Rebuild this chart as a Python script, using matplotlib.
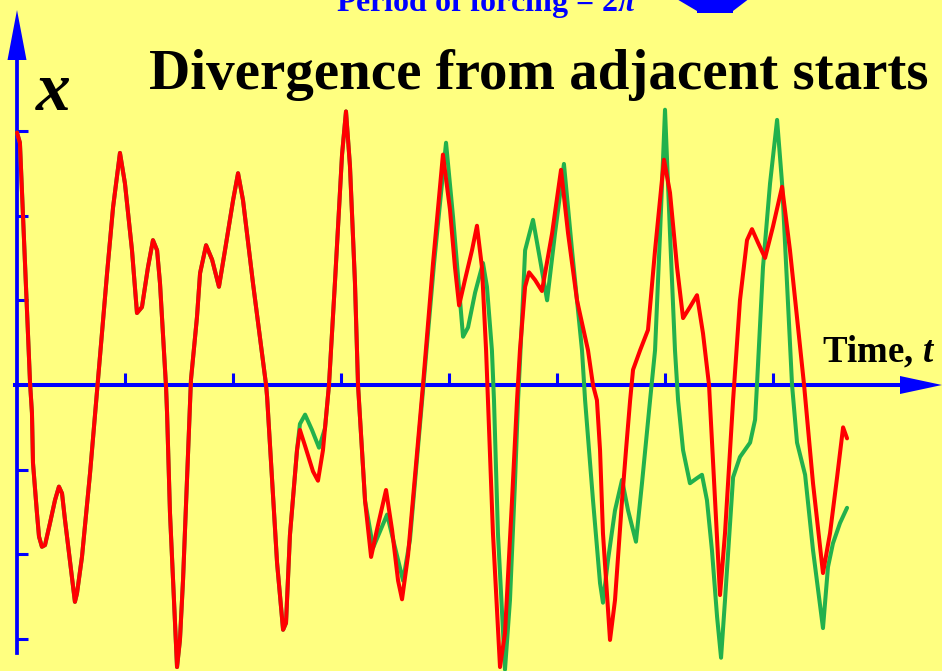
import numpy as np
import matplotlib
matplotlib.use("Agg")
import matplotlib.pyplot as plt
import matplotlib.transforms as mtransforms

# forced oscillator: two runs from almost the same starting point
# shared stretch (both runs coincide up to here)
t_common = [0.00, 0.17, 0.76, 0.87, 0.93, 1.16, 1.28, 1.45, 1.63, 1.92, 2.21, 2.44,
            2.62, 2.79, 3.08, 3.37, 3.49, 3.78, 4.25, 4.71, 5.24, 5.59, 5.99, 6.28,
            6.69, 6.98, 7.27, 7.62, 7.91, 8.15, 8.32, 8.67, 8.73, 8.90, 9.08, 9.31,
            9.48, 9.66, 9.89, 10.12, 10.47, 10.65, 11.00, 11.35, 11.75, 12.10, 12.57,
            12.86, 13.15, 13.73, 14.49, 14.55, 14.84, 15.13, 15.48, 15.65, 15.88, 16.29]
x_common = [2.98, 2.86, 0.02, -0.33, -0.92, -1.51, -1.79, -1.91, -1.89, -1.63, -1.36, -1.20,
            -1.28, -1.59, -2.07, -2.56, -2.46, -2.03, -1.04, 0.06, 1.32, 2.10, 2.74, 2.38,
            1.59, 0.85, 0.92, 1.39, 1.71, 1.59, 1.20, -0.02, -0.33, -1.51, -2.30, -3.33,
            -3.01, -2.30, -1.12, 0.06, 0.80, 1.32, 1.65, 1.48, 1.16, 1.59, 2.18,
            2.50, 2.18, 1.20, 0.00, -0.14, -1.12, -2.10, -2.89, -2.81, -1.77, -0.77]

# red run after the split
t_red = [16.46, 16.76, 17.22, 17.51, 17.80, 18.15, 18.50, 18.91, 19.14, 19.37, 19.66, 19.84,
         20.25, 20.60, 20.94, 21.47, 21.82, 22.17, 22.40, 22.75, 23.62, 24.20, 24.78, 25.19,
         25.48, 25.72, 26.06, 26.47, 26.76, 27.05, 27.29, 27.40, 27.69, 28.10, 28.39, 28.80,
         29.09, 29.26, 29.56, 29.79, 30.14, 30.54, 31.13, 31.65, 32.06, 32.58, 33.22, 33.51,
         33.74, 33.92, 34.09, 34.50, 34.79, 35.20, 35.43, 35.67, 35.84, 36.25, 36.71, 37.12,
         37.64, 37.99, 38.40, 38.75, 39.15, 39.56, 39.91, 40.26, 40.61, 40.90, 41.19, 41.66,
         42.06, 42.47, 42.76, 43.11, 43.52, 43.98, 44.51, 44.97, 45.38, 45.79, 46.31, 46.89,
         47.30, 47.71, 48.06, 48.29]
x_red = [-0.53, -0.72, -1.02, -1.13, -0.77, 0.00, 1.22, 2.72, 3.23, 2.59, 1.22, 0.00,
         -1.37, -2.03, -1.71, -1.24, -1.71, -2.31, -2.53, -2.01, 0.00, 1.43, 2.72, 2.07,
         1.39, 0.94, 1.24, 1.59, 1.88, 1.39, 0.41, -0.18, -1.75, -3.33, -2.93, -1.36,
         -0.18, 0.41, 1.16, 1.33, 1.24, 1.11, 1.79, 2.54, 1.79, 1.00, 0.41, 0.00,
         -0.18, -0.77, -1.75, -3.01, -2.54, -1.36, -0.77, -0.18, 0.18, 0.41, 0.65, 1.59,
         2.66, 2.27, 1.39, 0.79, 0.92, 1.06, 0.61, 0.00, -1.36, -2.48, -1.75, -0.18,
         1.00, 1.71, 1.84, 1.68, 1.50, 1.87, 2.34, 1.59, 0.80, 0.00, -1.16, -2.22,
         -1.75, -1.09, -0.50, -0.63]

# green run after the split
t_green = [16.46, 16.76, 17.16, 17.57, 17.92, 18.15, 18.50, 18.91, 19.14, 19.37, 19.66, 19.84,
           20.25, 20.72, 21.53, 22.46, 22.86, 23.62, 24.26, 24.96, 25.37, 25.77, 25.95, 26.24,
           26.65, 27.11, 27.34, 27.63, 27.75, 27.98, 28.39, 28.68, 28.97, 29.15, 29.38, 29.56,
           30.02, 30.43, 30.84, 31.30, 31.82, 32.29, 32.87, 33.05, 33.51, 33.92, 34.09, 34.38,
           34.79, 35.20, 35.55, 36.01, 36.36, 36.83, 37.12, 37.41, 37.70, 37.99, 38.28, 38.46,
           38.75, 39.15, 39.56, 39.85, 40.14, 40.43, 40.73, 40.96, 41.19, 41.66, 42.06, 42.65,
           42.94, 43.05, 43.40, 43.81, 44.22, 44.51, 44.80, 45.09, 45.38, 45.85, 46.31, 46.89,
           47.18, 47.47, 47.88, 48.29]
x_green = [-0.46, -0.35, -0.53, -0.74, -0.51, 0.00, 1.22, 2.72, 3.23, 2.59, 1.22, 0.00,
           -1.37, -1.92, -1.53, -2.31, -1.83, -0.06, 1.43, 2.86, 1.98, 1.00, 0.57, 0.68,
           1.09, 1.44, 1.16, 0.41, -0.18, -1.75, -3.36, -2.54, -1.16, -0.18, 0.77, 1.59,
           1.95, 1.48, 1.00, 1.79, 2.61, 1.59, 0.41, -0.18, -1.36, -2.34, -2.57, -2.07,
           -1.48, -1.12, -1.48, -1.85, -1.16, -0.18, 0.41, 1.79, 3.25, 1.79, 0.41, -0.18,
           -0.77, -1.16, -1.10, -1.06, -1.36, -1.95, -2.74, -3.22, -2.54, -1.09, -0.85, -0.68,
           -0.41, 0.00, 1.39, 2.38, 3.13, 2.38, 1.20, 0.00, -0.68, -1.06, -1.95, -2.87,
           -2.15, -1.87, -1.63, -1.45]

x_ticks = [2 * np.pi * k for k in range(1, 8)]
y_ticks = [-3, -2, -1, 1, 2, 3]

BG = "#FFFF80"
BLUE = "#0000FF"
W, H = 942, 671

plt.rcParams["mathtext.fontset"] = "custom"
plt.rcParams["mathtext.rm"] = "Liberation Serif:bold"
plt.rcParams["mathtext.it"] = "Liberation Serif:bold:italic"

fig = plt.figure(figsize=(W / 100, H / 100), dpi=100, facecolor=BG)
ax = fig.add_axes([0, 0, 1, 1], facecolor=BG)

# pixel scale: one forcing period = 108 px, one unit of x = 84.7 px
tpp = 2 * np.pi / 108
xpp = 1 / 84.7
ax.set_xlim(-17 * tpp, (W - 17) * tpp)
ax.set_ylim(-(H - 385) * xpp, 385 * xpp)

ax.plot(t_common + t_green, x_common + x_green, color="#22B14C", lw=2.9,
        solid_joinstyle="round", solid_capstyle="round", zorder=3)
ax.plot(t_common + t_red, x_common + x_red, color="#FF0000", lw=2.9,
        solid_joinstyle="round", solid_capstyle="round", zorder=4)

# axes through the origin
for s in ["top", "right"]:
    ax.spines[s].set_visible(False)
ax.spines["left"].set_position(("data", 0))
ax.spines["bottom"].set_position(("data", 0))
ax.spines["left"].set_color(BLUE)
ax.spines["bottom"].set_color(BLUE)
ax.spines["left"].set_linewidth(2.7)
ax.spines["bottom"].set_linewidth(2.9)
ax.spines["left"].set_bounds(-(653 - 385) * xpp, (385 - 58) * xpp)
ax.spines["bottom"].set_bounds(-2 * tpp, (902 - 17) * tpp)
ax.set_xticks(x_ticks)
ax.set_yticks(y_ticks)
ax.tick_params(axis="x", direction="in", length=8.6, width=2.2, color=BLUE,
               labelbottom=False)
ax.tick_params(axis="y", direction="in", length=8.0, width=2.2, color=BLUE,
               labelleft=False)

# arrow heads
ax.fill([-9.5 * tpp, 9.5 * tpp, 0], [(385 - 60) * xpp, (385 - 60) * xpp, (385 - 10) * xpp],
        color=BLUE, lw=0, zorder=5, clip_on=False)
ax.fill([(900 - 17) * tpp, (900 - 17) * tpp, (W - 17) * tpp], [9 * xpp, -9 * xpp, 0],
        color=BLUE, lw=0, zorder=5, clip_on=False)

# pixel transform (origin at top-left) for the decorations
px = mtransforms.Affine2D().scale(1 / W, -1 / H).translate(0, 1) + fig.transFigure

fig.text(539, 89, "Divergence from adjacent starts", transform=px, ha="center",
         va="baseline", fontsize=41, fontweight="bold", family="Liberation Serif")
fig.text(35, 110, "$x$", transform=px, ha="left", va="baseline", fontsize=50)
fig.text(822, 362, "Time, $t$", transform=px, ha="left", va="baseline", fontsize=26.5,
         fontweight="bold", family="Liberation Serif")
fig.text(487, 11, r"Period of forcing = 2$\pi$", transform=px, ha="center",
         va="baseline", fontsize=23, fontweight="bold", family="Liberation Serif",
         color=BLUE)

# period marker at the top edge
for poly in ([(675, -2), (697, -2), (697, 11)],
             [(697, -2), (733, -2), (733, 13), (697, 13)],
             [(733, -2), (750, -2), (733, 11)]):
    fig.patches.append(plt.Polygon(poly, closed=True, transform=px,
                                   facecolor=BLUE, edgecolor="none"))

fig.savefig("out.png", dpi=100, facecolor=BG)
